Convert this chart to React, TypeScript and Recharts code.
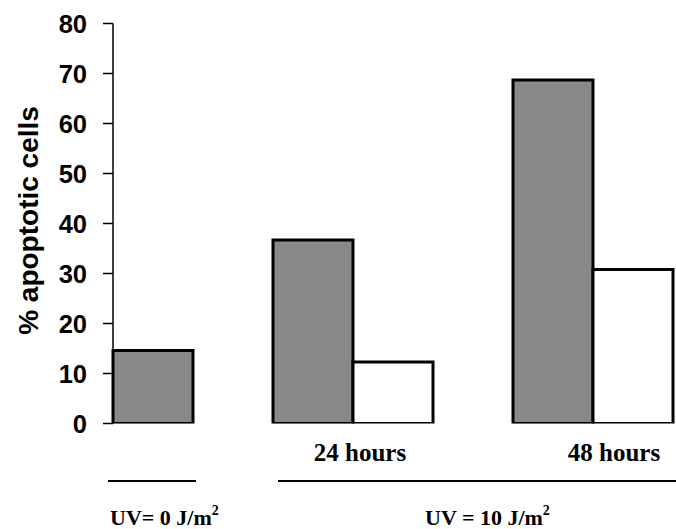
import React from 'react';
import { BarChart, Bar, XAxis, YAxis } from 'recharts';

// ---- data ----
const groups = ['UV0', '24h', '48h'];
const timeLabels = ['', '24 hours', '48 hours'];
const doseLabels = ['UV= 0 J/m²', 'UV = 10 J/m²'];
const doseOfGroup = [0, 1, 1];
const grayValues = [14.6, 36.7, 68.7];
const whiteValues: (number | null)[] = [null, 12.3, 30.8];
const yTicks = [0, 10, 20, 30, 40, 50, 60, 70, 80];
const yLabel = '% apoptotic cells';

// ---- layout / style ----
const CHART_W = 676;
const CHART_H = 529;
const SANS = '"Liberation Sans", Arial, sans-serif';
const SERIF = '"Liberation Serif", "Times New Roman", serif';
const GRAY = '#898989';
const TIME_DX = [0, 47, 61];

type Row = { slot: string; group: number; role: 'gray' | 'white' | 'gap'; gray?: number; white?: number };
const rows: Row[] = [];
groups.forEach((g, i) => {
  if (i > 0) rows.push({ slot: `gap-${i}`, group: i, role: 'gap' });
  rows.push({ slot: `${g}-gray`, group: i, role: 'gray', gray: grayValues[i] });
  if (whiteValues[i] != null) rows.push({ slot: `${g}-white`, group: i, role: 'white', white: whiteValues[i] as number });
});

function withSup(s: string) {
  if (s.endsWith('²')) {
    return (
      <>
        {s.slice(0, -1)}
        <tspan dy={-10} fontSize={14}>2</tspan>
      </>
    );
  }
  return s;
}

function SlotTick(props: any) {
  const { x, y, index } = props;
  const row = rows[index];
  if (!row || row.role === 'gap') return <g />;
  const els: React.ReactNode[] = [];
  const firstOfDose = rows.findIndex((r) => r.role === 'gray' && doseOfGroup[r.group] === doseOfGroup[row.group]);
  if (row.role === 'gray') {
    if (timeLabels[row.group]) {
      els.push(
        <text key="t" x={x + TIME_DX[row.group]} y={y + 37.5} textAnchor="middle" fontFamily={SERIF} fontWeight="bold" fontSize={25} fill="#000">
          {timeLabels[row.group]}
        </text>
      );
    }
    if (firstOfDose === index) {
      const d = doseOfGroup[row.group];
      if (d === 0) {
        els.push(<line key="l" x1={x - 45} x2={x + 43} y1={y + 57.5} y2={y + 57.5} stroke="#000" strokeWidth={2} />);
        els.push(
          <text key="d" x={x - 43} y={y + 101.5} textAnchor="start" fontFamily={SERIF} fontWeight="bold" fontSize={22} fill="#000">
            {withSup(doseLabels[d])}
          </text>
        );
      } else {
        els.push(<line key="l" x1={x - 35} x2={CHART_W} y1={y + 57.5} y2={y + 57.5} stroke="#000" strokeWidth={2} />);
      }
    }
  }
  if (row.role === 'white' && doseOfGroup[row.group] === 1 && rows.findIndex((r) => r.role === 'white') === index) {
    els.push(
      <text key="d" x={x + 32} y={y + 101.5} textAnchor="start" fontFamily={SERIF} fontWeight="bold" fontSize={22} fill="#000">
        {withSup(doseLabels[1])}
      </text>
    );
  }
  return <g>{els}</g>;
}

function YLabel(props: any) {
  const vb = props.viewBox || { x: 0, y: 23.5, width: 113, height: 400 };
  const cx = vb.x + 28.5;
  const cy = vb.y + vb.height / 2 - 3;
  return (
    <text
      x={cx}
      y={cy}
      transform={`rotate(-90 ${cx} ${cy})`}
      textAnchor="middle"
      dominantBaseline="central"
      fontFamily={SANS}
      fontWeight="bold"
      fontSize={28}
      fill="#000"
    >
      {yLabel}
    </text>
  );
}

export default function App() {
  return (
    <div style={{ position: 'absolute', left: 0, top: 0, width: CHART_W, height: CHART_H, background: '#fff' }}>
      <BarChart
        width={CHART_W}
        height={CHART_H}
        data={rows}
        margin={{ top: 23.5, right: 3, bottom: 0, left: 0 }}
        barCategoryGap={0}
        barGap={0}
      >
        <XAxis
          dataKey="slot"
          axisLine={false}
          tickLine={false}
          tickSize={0}
          tickMargin={0}
          interval={0}
          height={105.5}
          tick={<SlotTick />}
        />
        <YAxis
          width={113}
          domain={[0, 80]}
          ticks={yTicks}
          interval={0}
          allowDataOverflow
          tickSize={10}
          tickMargin={16}
          axisLine={{ stroke: '#000', strokeWidth: 1.5 }}
          tickLine={{ stroke: '#000', strokeWidth: 1.5 }}
          tick={{ fill: '#000', fontFamily: SANS, fontWeight: 'bold', fontSize: 25.5 }}
          label={{ content: <YLabel /> } as any}
        />
        <Bar dataKey="gray" stackId="s" fill={GRAY} stroke="#000" strokeWidth={3} isAnimationActive={false} />
        <Bar dataKey="white" stackId="s" fill="#fff" stroke="#000" strokeWidth={3} isAnimationActive={false} />
      </BarChart>
    </div>
  );
}
